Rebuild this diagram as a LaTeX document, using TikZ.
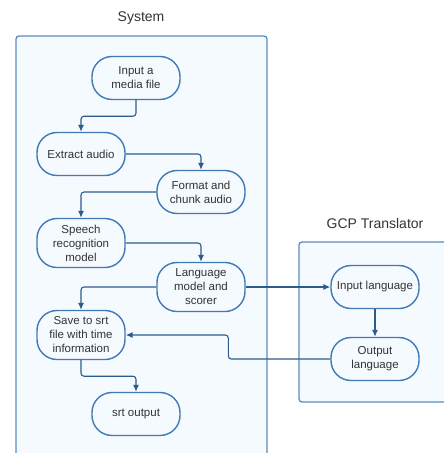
\documentclass[tikz,border=0pt]{standalone}
\usepackage{fontspec}
\setmainfont{Liberation Sans}
\usetikzlibrary{arrows.meta}

\definecolor{groupline}{HTML}{5A8CC0}
\definecolor{groupfill}{HTML}{F5FAFF}
\definecolor{stageline}{HTML}{4079B4}
\definecolor{flowline}{HTML}{2C5C8C}
\definecolor{txt}{HTML}{333333}

\tikzset{
  group/.style={draw=groupline, fill=groupfill, line width=1.3pt, rounded corners=3pt},
  grouptitle/.style={text=txt, font=\fontsize{14}{16}\selectfont},
  stage/.style={draw=stageline, fill=groupfill, line width=1.4pt, rounded corners=20pt,
    minimum width=88pt, minimum height=43pt, inner sep=1pt, align=center,
    text=txt, font=\fontsize{11.5}{14}\selectfont},
  flow/.style={draw=flowline, line width=1.1pt, rounded corners=3pt,
    -{Latex[length=7pt,width=6pt]}},
}

\begin{document}
\begin{tikzpicture}[x=1pt, y=-1pt]
  \useasboundingbox (0,0) rectangle (444,453);

  % the two groups
  \draw[group] (16,36) rectangle (267,470);
  \node[grouptitle] (systitle) at (141,18) {System};
  \draw[group] (299,242) rectangle (460,402);
  \node[grouptitle] (gcptitle) at (375,223) {GCP Translator};

  % system stages
  \node[stage] (media) at (136,78) {Input a\\media file};
  \node[stage] (extract) at (81,154) {Extract audio};
  \node[stage] (format) at (201,192) {Format and\\chunk audio};
  \node[stage, minimum height=49pt] (speech) at (81,243) {Speech\\recognition\\model};
  \node[stage, minimum height=49pt] (lang) at (201,287) {Language\\model and\\scorer};
  \node[stage, minimum height=49pt] (save) at (81,335) {Save to srt\\file with time\\information};
  \node[stage] (srt) at (136,414) {srt output};

  % translator stages
  \node[stage] (inlang) at (375,287) {Input language};
  \node[stage] (outlang) at (375,359) {Output\\language};

  % connectors
  \draw[flow] (media.south) -- ++(0,16) -| (extract.north);
  \draw[flow] (extract.east) -| (format.north);
  \draw[flow] (format.west) -| (speech.north);
  \draw[flow] (speech.east) -| (lang.north);
  \draw[flow] (lang.west) -| (save.north);
  \draw[flow] (lang.east) -- (inlang.west);
  \draw[flow] (inlang.south) -- (outlang.north);
  \draw[flow] (outlang.west) -- ++(-102,0) |- (save.east);
  \draw[flow] (save.south) -- ++(0,16) -| (srt.north);
\end{tikzpicture}
\end{document}
